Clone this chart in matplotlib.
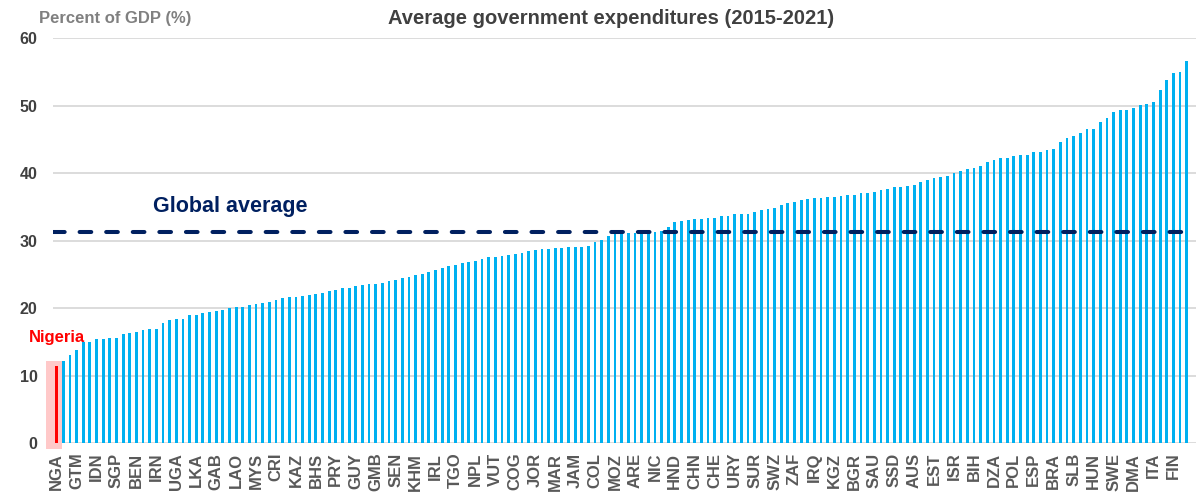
import matplotlib
matplotlib.use("Agg")
import matplotlib.pyplot as plt
import numpy as np
from matplotlib.patches import Rectangle

plt.rcParams['font.family'] = ['Liberation Sans', 'DejaVu Sans']

# government expenditure, percent of GDP, sorted ascending (171 countries, first is Nigeria)
values = [
    11.4, 12.1, 13.1, 13.8, 14.9, 14.9, 15.4, 15.4, 15.6, 15.6,
    16.2, 16.3, 16.5, 16.8, 16.9, 16.9, 17.8, 18.2, 18.3, 18.4,
    18.9, 19.0, 19.2, 19.4, 19.5, 19.7, 20.0, 20.1, 20.2, 20.5,
    20.6, 20.7, 20.9, 21.2, 21.5, 21.6, 21.7, 21.8, 22.0, 22.1,
    22.2, 22.5, 22.7, 22.9, 23.0, 23.2, 23.4, 23.5, 23.6, 23.7,
    24.0, 24.2, 24.4, 24.6, 24.9, 25.1, 25.3, 25.6, 25.9, 26.2,
    26.4, 26.6, 26.8, 27.0, 27.3, 27.5, 27.6, 27.7, 27.8, 28.0,
    28.2, 28.5, 28.6, 28.7, 28.8, 28.9, 28.9, 29.1, 29.1, 29.1,
    29.2, 29.8, 30.1, 30.6, 30.9, 31.1, 31.1, 31.1, 31.1, 31.1,
    31.3, 31.4, 32.0, 32.7, 32.9, 33.0, 33.2, 33.2, 33.4, 33.4,
    33.6, 33.7, 33.9, 34.0, 34.0, 34.3, 34.5, 34.6, 34.8, 35.2,
    35.5, 35.7, 36.0, 36.2, 36.3, 36.3, 36.4, 36.5, 36.6, 36.7,
    36.8, 37.0, 37.1, 37.2, 37.5, 37.7, 37.9, 38.0, 38.1, 38.3,
    38.6, 38.9, 39.2, 39.4, 39.6, 40.0, 40.3, 40.6, 40.8, 41.1,
    41.6, 42.0, 42.2, 42.3, 42.5, 42.7, 42.7, 43.1, 43.1, 43.4,
    43.6, 44.6, 45.2, 45.5, 45.9, 46.5, 46.5, 47.6, 48.1, 49.1,
    49.3, 49.3, 49.6, 50.1, 50.2, 50.5, 52.3, 53.8, 54.8, 54.9,
    56.6,
]

# every third country is labelled
tick_labels = [
    'NGA', 'GTM', 'IDN', 'SGP', 'BEN', 'IRN', 'UGA', 'LKA', 'GAB', 'LAO',
    'MYS', 'CRI', 'KAZ', 'BHS', 'PRY', 'GUY', 'GMB', 'SEN', 'KHM', 'IRL',
    'TGO', 'NPL', 'VUT', 'COG', 'JOR', 'MAR', 'JAM', 'COL', 'MOZ', 'ARE',
    'NIC', 'HND', 'CHN', 'CHE', 'URY', 'SUR', 'SWZ', 'ZAF', 'IRQ', 'KGZ',
    'BGR', 'SAU', 'SSD', 'AUS', 'EST', 'ISR', 'BIH', 'DZA', 'POL', 'ESP',
    'BRA', 'SLB', 'HUN', 'SWE', 'DMA', 'ITA', 'FIN',
]

global_avg = 31.3
highlight = 'Nigeria'

x = np.arange(len(values))
colors = ['#FF0000'] + ['#00B0F0'] * (len(values) - 1)

fig = plt.figure(figsize=(11.96, 4.94), dpi=100)
ax = fig.add_axes([0.0443, 0.1032, 0.9557, 0.8198])

ax.bar(x, values, width=0.42, color=colors, zorder=3)

# pink box behind Nigeria
ax.add_patch(Rectangle((-1.6, -0.9), 2.4, 13.1, facecolor='#FFC9C9',
                       edgecolor='none', zorder=1, clip_on=False))

ax.axhline(global_avg, color='#002060', lw=2.9, ls=(0, (2.9, 3.7)),
           dash_capstyle='round', zorder=4)
ax.text(14.5, 35.1, 'Global average', color='#002060', fontsize=15.5,
        fontweight='bold', va='center', ha='left')
ax.text(0, 15.6, highlight, color='#FF0000', fontsize=12, fontweight='bold',
        ha='center', va='center')

ax.set_xlim(-0.55, 171.4)
ax.set_ylim(0, 60)
ax.set_yticks(range(0, 61, 10))
ax.set_xticks(x[::3])
ax.set_xticklabels(tick_labels, rotation=90, fontsize=12,
                   fontweight='bold', color='#595959', va='top')
for lab in ax.get_yticklabels():
    lab.set_fontweight('bold')
    lab.set_color('#404040')
    lab.set_fontsize(11.5)
ax.tick_params(axis='both', length=0)
ax.tick_params(axis='x', pad=7)
ax.tick_params(axis='y', pad=11)

ax.grid(axis='y', color='#D9D9D9', lw=1.3, zorder=0)
ax.set_axisbelow(True)
for s in ax.spines.values():
    s.set_visible(False)

fig.text(0.511, 0.963, 'Average government expenditures (2015-2021)',
         ha='center', va='center', fontsize=14.5, fontweight='bold',
         color='#404040')
fig.text(0.033, 0.963, 'Percent of GDP (%)', ha='left', va='center',
         fontsize=12, fontweight='bold', color='#808080')

fig.savefig('out.png', dpi=100)
